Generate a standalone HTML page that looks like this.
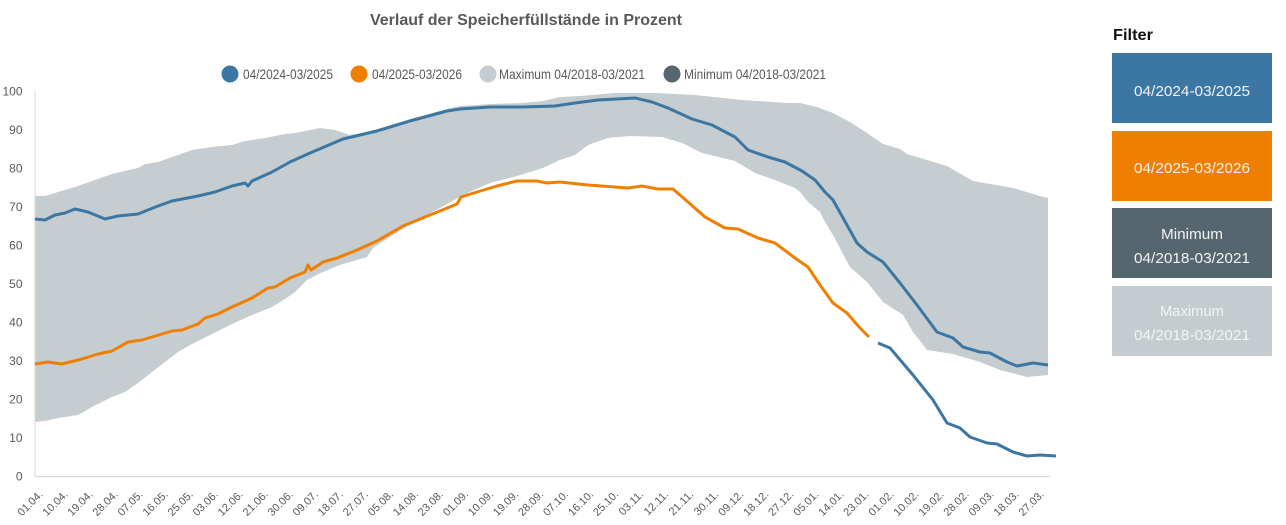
<!DOCTYPE html>
<html>
<head>
<meta charset="utf-8">
<style>
  html, body { margin:0; padding:0; background:#ffffff; }
  body { width:1286px; height:525px; overflow:hidden; }
  svg { display:block; }
  text { font-family: "Liberation Sans", Arial, sans-serif; }
</style>
</head>
<body>
<svg width="1286" height="525" viewBox="0 0 1286 525" xmlns="http://www.w3.org/2000/svg">
  <rect x="0" y="0" width="1286" height="525" fill="#ffffff"/>

  <!-- Title -->
  <text x="370" y="25" font-size="16" font-weight="bold" fill="#595959" textLength="312" lengthAdjust="spacingAndGlyphs">Verlauf der Speicherfüllstände in Prozent</text>

  <!-- Legend -->
  <circle cx="230" cy="74" r="8.5" fill="#3b77a2"/>
  <text x="243" y="79" font-size="13.5" fill="#595959" textLength="90" lengthAdjust="spacingAndGlyphs">04/2024-03/2025</text>
  <circle cx="359" cy="74" r="8.5" fill="#ef7f00"/>
  <text x="372" y="79" font-size="13.5" fill="#595959" textLength="90" lengthAdjust="spacingAndGlyphs">04/2025-03/2026</text>
  <circle cx="488" cy="74" r="8.5" fill="#c6cdd0"/>
  <text x="499" y="79" font-size="13.5" fill="#595959" textLength="146" lengthAdjust="spacingAndGlyphs">Maximum 04/2018-03/2021</text>
  <circle cx="672" cy="74" r="8.5" fill="#56666f"/>
  <text x="684" y="79" font-size="13.5" fill="#595959" textLength="142" lengthAdjust="spacingAndGlyphs">Minimum 04/2018-03/2021</text>

  <!-- Y axis labels -->
  <g font-size="12" fill="#595959" text-anchor="end">
    <text x="22.5" y="95.5">100</text>
    <text x="22.5" y="134">90</text>
    <text x="22.5" y="172.5">80</text>
    <text x="22.5" y="211">70</text>
    <text x="22.5" y="249.5">60</text>
    <text x="22.5" y="288">50</text>
    <text x="22.5" y="326.5">40</text>
    <text x="22.5" y="365">30</text>
    <text x="22.5" y="403.5">20</text>
    <text x="22.5" y="442">10</text>
    <text x="22.5" y="480.5">0</text>
  </g>

  <!-- Band (max/min range) -->
  <polygon fill="#c6cdd0" points="
    35,196 45,196 58,192 68,189 78,186 92,181 112,174 125,171 138,168 145,164 158,162 178,155 192,150 212,147 232,145 245,141 265,138 285,134 295,133 320,128 335,130 350,135 362,133 377,129 410,119 447,109 460,106 490,104 523,103 543,101 560,97 580,96 615,93 655,93 695,95 742,100 788,103 800,103 817,107 833,113 850,122 867,133 883,144 900,149 907,154 947,166 973,181 1013,188 1040,196 1048,198
    1048,375 1027,377 1000,370 980,362 953,354 927,350 913,332 903,315 883,302 867,282 850,267 833,235 825,222 820,212 808,202 800,192 795,188 775,180 755,173 735,161 702,153 682,143 662,137 630,136 608,138 588,145 575,155 560,160 543,168 517,176 490,183 463,195 440,208 417,220 390,237 373,248 367,257 340,265 323,272 307,280 295,292 285,299 272,307 252,315 232,324 212,334 192,344 178,352 165,362 152,372 138,383 125,392 112,397 92,407 78,415 58,418 45,421 35,422"/>

  <!-- Axes -->
  <line x1="35" y1="91" x2="35" y2="476.5" stroke="#dcdcdc" stroke-width="1.2"/>
  <line x1="35" y1="476.5" x2="1050" y2="476.5" stroke="#dcdcdc" stroke-width="1.2"/>

  <!-- Orange series 04/2025-03/2026 -->
  <polyline fill="none" stroke="#ef7f00" stroke-width="3" stroke-linejoin="round" stroke-linecap="butt" points="
    35,364 48,362 62,364 82,359 98,354 112,351 128,342 142,340 172,331 182,330 198,324 205,318 218,314 232,307 252,298 268,288 275,287 290,278 305,272 308,265 311,270 323,262 337,258 357,250 377,241 403,226 430,215 457,204 461,197 477,192 497,186 517,181 537,181 547,183 560,182 588,185 628,188 642,186 658,189 673,189 688,202 705,217 725,228 738,229 758,238 775,243 795,258 808,267 820,285 833,303 847,313 860,328 869,337"/>

  <!-- Blue series 04/2024-03/2025 -->
  <polyline fill="none" stroke="#3b77a2" stroke-width="3" stroke-linejoin="round" stroke-linecap="butt" points="
    35,219 45,220 55,215 65,213 75,209 88,212 105,219 118,216 138,214 158,206 172,201 198,196 215,192 232,186 245,183 248,186 252,181 272,172 290,162 310,153 343,139 377,131 410,121 447,111 460,109 490,107 523,107 555,106 575,103 598,100 635,98 652,102 668,108 692,119 712,125 735,137 748,150 768,157 785,162 802,171 815,180 825,192 833,200 857,243 867,252 883,262 900,283 917,305 937,332 953,338 963,347 980,352 990,353 1007,362 1017,366 1033,363 1048,365"/>

  <!-- Blue lower continuation -->
  <polyline fill="none" stroke="#3b77a2" stroke-width="3" stroke-linejoin="round" stroke-linecap="butt" points="
    878,343 890,348 913,375 933,400 947,423 960,428 970,437 987,443 997,444 1013,452 1027,456 1040,455 1056,456"/>

  <!-- X axis labels -->
  <g font-size="11" fill="#595959" text-anchor="end">
    <text transform="translate(43.5,495) rotate(-45)">01.04.</text>
    <text transform="translate(68.5,495) rotate(-45)">10.04.</text>
    <text transform="translate(93.5,495) rotate(-45)">19.04.</text>
    <text transform="translate(118.6,495) rotate(-45)">28.04.</text>
    <text transform="translate(143.6,495) rotate(-45)">07.05.</text>
    <text transform="translate(168.6,495) rotate(-45)">16.05.</text>
    <text transform="translate(193.7,495) rotate(-45)">25.05.</text>
    <text transform="translate(218.7,495) rotate(-45)">03.06.</text>
    <text transform="translate(243.7,495) rotate(-45)">12.06.</text>
    <text transform="translate(268.7,495) rotate(-45)">21.06.</text>
    <text transform="translate(293.8,495) rotate(-45)">30.06.</text>
    <text transform="translate(318.8,495) rotate(-45)">09.07.</text>
    <text transform="translate(343.8,495) rotate(-45)">18.07.</text>
    <text transform="translate(368.9,495) rotate(-45)">27.07.</text>
    <text transform="translate(393.9,495) rotate(-45)">05.08.</text>
    <text transform="translate(418.9,495) rotate(-45)">14.08.</text>
    <text transform="translate(443.9,495) rotate(-45)">23.08.</text>
    <text transform="translate(469.0,495) rotate(-45)">01.09.</text>
    <text transform="translate(494.0,495) rotate(-45)">10.09.</text>
    <text transform="translate(519.0,495) rotate(-45)">19.09.</text>
    <text transform="translate(544.1,495) rotate(-45)">28.09.</text>
    <text transform="translate(569.1,495) rotate(-45)">07.10.</text>
    <text transform="translate(594.1,495) rotate(-45)">16.10.</text>
    <text transform="translate(619.1,495) rotate(-45)">25.10.</text>
    <text transform="translate(644.2,495) rotate(-45)">03.11.</text>
    <text transform="translate(669.2,495) rotate(-45)">12.11.</text>
    <text transform="translate(694.2,495) rotate(-45)">21.11.</text>
    <text transform="translate(719.3,495) rotate(-45)">30.11.</text>
    <text transform="translate(744.3,495) rotate(-45)">09.12.</text>
    <text transform="translate(769.3,495) rotate(-45)">18.12.</text>
    <text transform="translate(794.3,495) rotate(-45)">27.12.</text>
    <text transform="translate(819.4,495) rotate(-45)">05.01.</text>
    <text transform="translate(844.4,495) rotate(-45)">14.01.</text>
    <text transform="translate(869.4,495) rotate(-45)">23.01.</text>
    <text transform="translate(894.5,495) rotate(-45)">01.02.</text>
    <text transform="translate(919.5,495) rotate(-45)">10.02.</text>
    <text transform="translate(944.5,495) rotate(-45)">19.02.</text>
    <text transform="translate(969.5,495) rotate(-45)">28.02.</text>
    <text transform="translate(994.6,495) rotate(-45)">09.03.</text>
    <text transform="translate(1019.6,495) rotate(-45)">18.03.</text>
    <text transform="translate(1044.6,495) rotate(-45)">27.03.</text>
  </g>

  <!-- Filter panel -->
  <text x="1113" y="40" font-size="16" font-weight="bold" fill="#111111" textLength="40" lengthAdjust="spacingAndGlyphs">Filter</text>

  <rect x="1112" y="53" width="160" height="70" fill="#3b77a2"/>
  <text x="1192" y="96" font-size="15" fill="#f2f2f2" text-anchor="middle" textLength="116" lengthAdjust="spacingAndGlyphs">04/2024-03/2025</text>

  <rect x="1112" y="131" width="160" height="70" fill="#ef7f00"/>
  <text x="1192" y="173" font-size="15" fill="#f2f2f2" text-anchor="middle" textLength="116" lengthAdjust="spacingAndGlyphs">04/2025-03/2026</text>

  <rect x="1112" y="208" width="160" height="70" fill="#56666f"/>
  <text x="1192" y="239" font-size="15" fill="#f2f2f2" text-anchor="middle" textLength="62" lengthAdjust="spacingAndGlyphs">Minimum</text>
  <text x="1192" y="263" font-size="15" fill="#f2f2f2" text-anchor="middle" textLength="116" lengthAdjust="spacingAndGlyphs">04/2018-03/2021</text>

  <rect x="1112" y="286" width="160" height="70" fill="#c5cccf"/>
  <text x="1192" y="316" font-size="15" fill="#f4f4f4" text-anchor="middle" textLength="64" lengthAdjust="spacingAndGlyphs">Maximum</text>
  <text x="1192" y="340" font-size="15" fill="#f4f4f4" text-anchor="middle" textLength="116" lengthAdjust="spacingAndGlyphs">04/2018-03/2021</text>
</svg>
</body>
</html>
